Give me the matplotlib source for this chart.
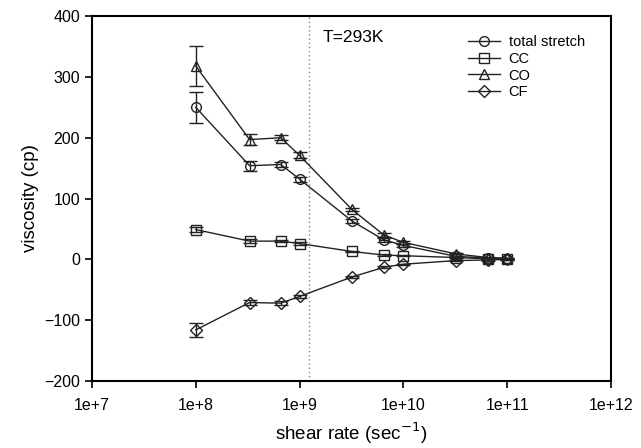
import numpy as np
import matplotlib
matplotlib.use("Agg")
import matplotlib.pyplot as plt
from matplotlib.lines import Line2D
from matplotlib.ticker import FuncFormatter, NullLocator

plt.rcParams["font.family"] = ["Liberation Sans", "DejaVu Sans"]

# shear rates (1/s)
shear = [1e8, 3.3e8, 6.6e8, 1e9, 3.2e9, 6.5e9, 1e10, 3.2e10, 6.5e10, 1e11]

total_stretch = [250, 154, 156, 132, 63, 32, 23, 5, 2, 1]
total_err = [25, 8, 4, 4, 3, 3, 2, 1, 1, 1]
cc = [49, 30, 30, 26, 13, 7, 6, 3, 1, 0]
cc_err = [4, 3, 2, 2, 1, 1, 1, 1, 1, 1]
co = [318, 197, 200, 171, 82, 40, 28, 9, 3, 2]
co_err = [33, 9, 4, 5, 3, 3, 2, 1, 1, 1]
cf = [-116, -71, -72, -61, -29, -13, -8, -2, -1, 0]
cf_err = [11, 4, 3, 3, 2, 2, 1, 1, 1, 1]

labels = ["total stretch", "CC", "CO", "CF"]
markers = ["o", "s", "^", "D"]
T_line = 1.24e9

fig = plt.figure(figsize=(6.41, 4.48), dpi=100)
ax = fig.add_axes([0.1435, 0.1496, 0.8095, 0.8144])

series = [(total_stretch, total_err), (cc, cc_err), (co, co_err), (cf, cf_err)]
handles = []
for (vals, err), lab, m in zip(series, labels, markers):
    ms = 6 if m == "D" else 7
    ax.errorbar(shear, vals, yerr=err, color="#222222", lw=1.0, marker=m,
                ms=ms, mfc="none", mec="#222222", mew=1.0, capsize=5,
                elinewidth=1.0, capthick=1.0)
    handles.append(Line2D([], [], color="#222222", lw=1.0, marker=m, ms=ms,
                          mfc="none", mec="#222222", mew=1.0, label=lab))

ax.axvline(T_line, color="#888888", ls=(0, (1, 2)), lw=1.0)
ax.text(10**9.22, 365, "T=293K", fontsize=12.5, va="center", ha="left")

ax.set_xscale("log")
ax.set_xlim(1e7, 1e12)
ax.set_ylim(-200, 400)
ax.set_yticks([-200, -100, 0, 100, 200, 300, 400])
ax.set_xticks([1e7, 1e8, 1e9, 1e10, 1e11, 1e12])
ax.xaxis.set_minor_locator(NullLocator())
ax.xaxis.set_major_formatter(FuncFormatter(lambda v, p: "1e+%d" % round(np.log10(v))))
ax.tick_params(direction="out", length=5, width=1.2, labelsize=11.5, top=False, right=False)
ax.tick_params(axis="x", pad=7)
for s in ax.spines.values():
    s.set_linewidth(1.5)

ax.set_xlabel("shear rate (sec$^{-1}$)", fontsize=13.5, labelpad=6)
ax.set_ylabel("viscosity (cp)", fontsize=13.5)

ax.legend(handles=handles, loc="upper right", bbox_to_anchor=(0.975, 0.985), frameon=False,
          fontsize=10.5, handlelength=2.2, labelspacing=0.2, handletextpad=0.6)

fig.savefig("out.png", dpi=100)
